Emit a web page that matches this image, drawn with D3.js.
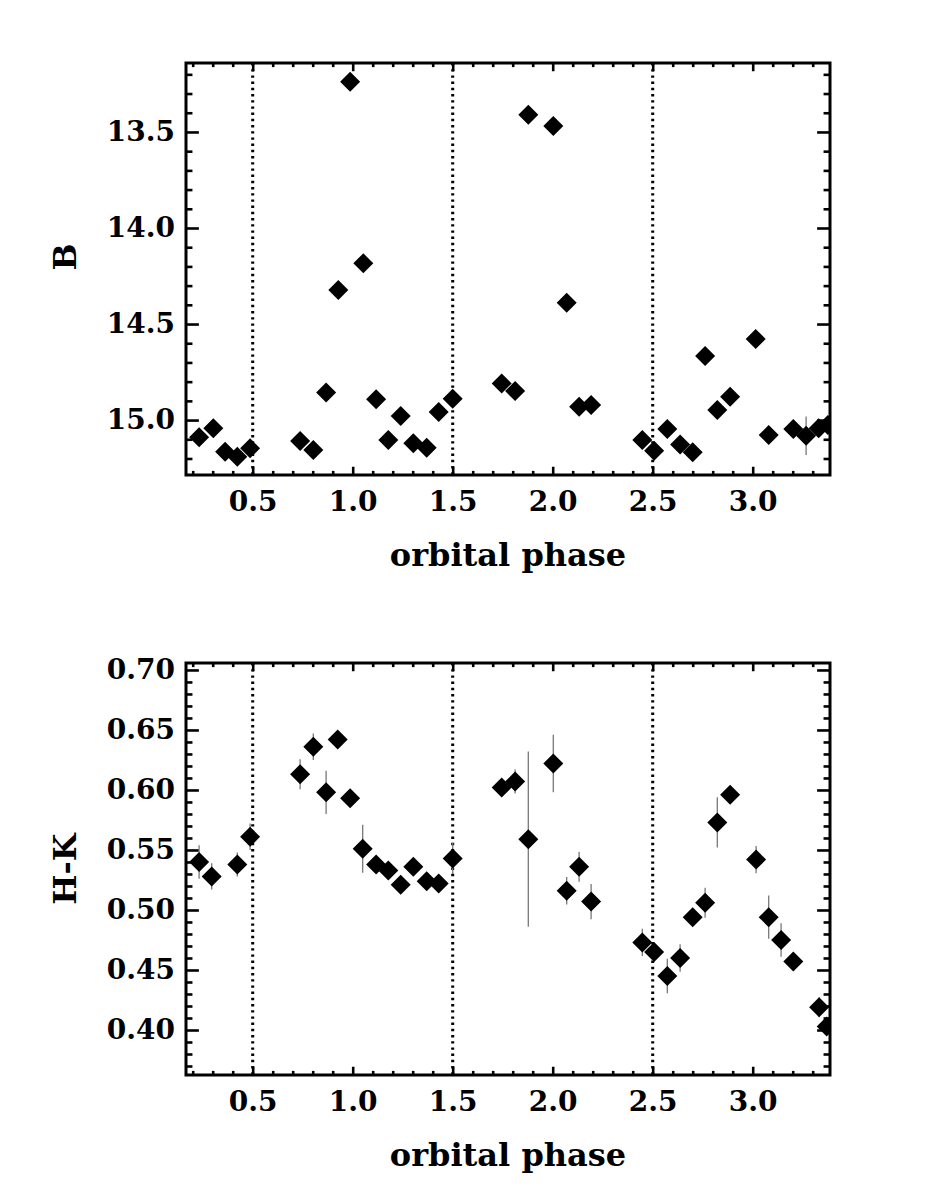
<!DOCTYPE html>
<html>
<head>
<meta charset="utf-8">
<script src="https://cdn.jsdelivr.net/npm/d3@7/dist/d3.min.js"></script>
<style>
  body { margin: 0; background: #fff; }
  svg { display: block; }
  .tick text { font-family: "DejaVu Serif", serif; font-size: 28px; font-weight: bold; fill: #000; }
  .title { font-family: "DejaVu Serif", serif; font-size: 32px; font-weight: bold; fill: #000; }
</style>
</head>
<body>
<div id="chart"></div>
<script>
// orbital phase, B magnitude panel
const phaseB = [0.232, 0.303, 0.362, 0.423, 0.487, 0.737, 0.803, 0.867, 0.928, 0.987,
  1.053, 1.117, 1.178, 1.240, 1.303, 1.370, 1.430, 1.500, 1.745, 1.812,
  1.878, 2.003, 2.070, 2.132, 2.192, 2.448, 2.507, 2.573, 2.637, 2.700,
  2.762, 2.823, 2.887, 3.015, 3.080, 3.203, 3.267, 3.330, 3.376];
const magB = [15.090, 15.043, 15.165, 15.191, 15.147, 15.109, 15.156, 14.856, 14.323, 13.238,
  14.184, 14.892, 15.104, 14.979, 15.121, 15.144, 14.958, 14.889, 14.809, 14.849,
  13.411, 13.469, 14.389, 14.931, 14.922, 15.104, 15.160, 15.047, 15.127, 15.167,
  14.667, 14.948, 14.879, 14.578, 15.078, 15.047, 15.082, 15.043, 15.026];
const errB = [0.01, 0.01, 0.01, 0.01, 0.01, 0.01, 0.01, 0.01, 0.01, 0.01,
  0.01, 0.01, 0.01, 0.01, 0.01, 0.01, 0.01, 0.01, 0.01, 0.01,
  0.01, 0.01, 0.01, 0.01, 0.01, 0.01, 0.01, 0.01, 0.01, 0.01,
  0.01, 0.01, 0.01, 0.01, 0.01, 0.01, 0.10, 0.01, 0.01];

// orbital phase, H-K colour panel
const phaseHK = [0.232, 0.295, 0.423, 0.487, 0.737, 0.803, 0.867, 0.925, 0.987, 1.050,
  1.117, 1.178, 1.240, 1.303, 1.370, 1.430, 1.500, 1.745, 1.812, 1.878,
  2.003, 2.070, 2.132, 2.192, 2.448, 2.507, 2.573, 2.637, 2.700, 2.762,
  2.823, 2.887, 3.017, 3.080, 3.142, 3.203, 3.332, 3.370];
const colHK = [0.540, 0.528, 0.538, 0.561, 0.613, 0.636, 0.598, 0.642, 0.593, 0.551,
  0.538, 0.533, 0.521, 0.536, 0.524, 0.522, 0.543, 0.602, 0.607, 0.559,
  0.622, 0.516, 0.536, 0.507, 0.473, 0.465, 0.445, 0.460, 0.494, 0.506,
  0.573, 0.596, 0.542, 0.494, 0.475, 0.457, 0.419, 0.403];
const errHK = [0.014, 0.011, 0.010, 0.011, 0.0125, 0.011, 0.018, 0.003, 0.003, 0.020,
  0.006, 0.005, 0.006, 0.004, 0.004, 0.007, 0.013, 0.003, 0.010, 0.073,
  0.024, 0.0115, 0.0125, 0.0147, 0.0114, 0.005, 0.0143, 0.0115, 0.004, 0.0125,
  0.021, 0.003, 0.0114, 0.018, 0.014, 0.004, 0.0083, 0.006];

const xMajor = [0.5, 1.0, 1.5, 2.0, 2.5, 3.0];
const xMinor = [0.2, 0.3, 0.4, 0.6, 0.7, 0.8, 0.9, 1.1, 1.2, 1.3, 1.4, 1.6, 1.7, 1.8, 1.9,
  2.1, 2.2, 2.3, 2.4, 2.6, 2.7, 2.8, 2.9, 3.1, 3.2, 3.3];
const eclipsePhases = [0.5, 1.5, 2.5];
const yMajorB = [13.5, 14.0, 14.5, 15.0];
const yMinorB = [13.2, 13.3, 13.4, 13.6, 13.7, 13.8, 13.9, 14.1, 14.2, 14.3, 14.4,
  14.6, 14.7, 14.8, 14.9, 15.1, 15.2];
const yMajorHK = [0.40, 0.45, 0.50, 0.55, 0.60, 0.65, 0.70];
const yMinorHK = [0.37, 0.38, 0.39, 0.41, 0.42, 0.43, 0.44, 0.46, 0.47, 0.48, 0.49,
  0.51, 0.52, 0.53, 0.54, 0.56, 0.57, 0.58, 0.59, 0.61, 0.62, 0.63, 0.64,
  0.66, 0.67, 0.68, 0.69];

const width = 925, height = 1199;
const left = 186, right = 830;

const svg = d3.select('#chart').append('svg')
  .attr('width', width)
  .attr('height', height);

const x = d3.scaleLinear().domain([0.1665, 3.3865]).range([left, right]);

function diamond(r) {
  return `M0,${-r}L${r},0L0,${r}L${-r},0Z`;
}

function drawPanel(opts) {
  const { id, top, bottom, y, xs, ys, errs, yMajor, yMinor, yFormat, ylabel, ylabelY } = opts;
  const g = svg.append('g').attr('class', id);

  g.append('clipPath').attr('id', `clip-${id}`)
    .append('rect')
    .attr('x', left).attr('y', top)
    .attr('width', right - left).attr('height', bottom - top);

  // dotted eclipse lines
  g.selectAll('.eclipse')
    .data(eclipsePhases)
    .enter()
    .append('line')
    .attr('x1', d => x(d)).attr('x2', d => x(d))
    .attr('y1', top).attr('y2', bottom)
    .attr('stroke', '#000')
    .attr('stroke-width', 3)
    .attr('stroke-dasharray', '2.4,3.8');

  const xTick = 0.02 * (bottom - top);
  const yTick = 0.02 * (right - left);

  // bottom axis
  const xb = g.append('g').attr('transform', `translate(0,${bottom})`)
    .call(d3.axisBottom(x).tickValues(xMajor).tickSize(-xTick).tickFormat(d3.format('.1f')));
  xb.selectAll('text').attr('y', 36).attr('dy', null);
  g.append('g').attr('transform', `translate(0,${bottom})`)
    .call(d3.axisBottom(x).tickValues(xMinor).tickSize(-xTick / 2).tickFormat(''));
  // top axis
  g.append('g').attr('transform', `translate(0,${top})`)
    .call(d3.axisTop(x).tickValues(xMajor).tickSize(-xTick).tickFormat(''));
  g.append('g').attr('transform', `translate(0,${top})`)
    .call(d3.axisTop(x).tickValues(xMinor).tickSize(-xTick / 2).tickFormat(''));

  // left axis
  const yl = g.append('g').attr('transform', `translate(${left},0)`)
    .call(d3.axisLeft(y).tickValues(yMajor).tickSize(-yTick).tickPadding(11).tickFormat(yFormat));
  yl.selectAll('text').attr('dy', '0.29em');
  g.append('g').attr('transform', `translate(${left},0)`)
    .call(d3.axisLeft(y).tickValues(yMinor).tickSize(-yTick / 2).tickFormat(''));
  // right axis
  g.append('g').attr('transform', `translate(${right},0)`)
    .call(d3.axisRight(y).tickValues(yMajor).tickSize(-yTick).tickFormat(''));
  g.append('g').attr('transform', `translate(${right},0)`)
    .call(d3.axisRight(y).tickValues(yMinor).tickSize(-yTick / 2).tickFormat(''));

  g.selectAll('.domain').remove();
  g.selectAll('.tick line').attr('stroke', '#000').attr('stroke-width', 2.6);

  // frame
  g.append('rect')
    .attr('x', left).attr('y', top)
    .attr('width', right - left).attr('height', bottom - top)
    .attr('fill', 'none')
    .attr('stroke', '#000')
    .attr('stroke-width', 3);

  const pts = xs.map((p, i) => ({ p, v: ys[i], e: errs[i] }));
  const data = g.append('g').attr('clip-path', `url(#clip-${id})`);

  data.selectAll('.err')
    .data(pts)
    .enter()
    .append('line')
    .attr('x1', d => x(d.p)).attr('x2', d => x(d.p))
    .attr('y1', d => y(d.v - d.e)).attr('y2', d => y(d.v + d.e))
    .attr('stroke', '#777')
    .attr('stroke-width', 1.3);

  data.selectAll('.pt')
    .data(pts)
    .enter()
    .append('path')
    .attr('d', diamond(10))
    .attr('transform', d => `translate(${x(d.p)},${y(d.v)})`)
    .attr('fill', '#000');

  g.append('text')
    .attr('class', 'title')
    .attr('x', (left + right) / 2)
    .attr('y', bottom + 91)
    .attr('text-anchor', 'middle')
    .text('orbital phase');

  g.append('text')
    .attr('class', 'title')
    .attr('transform', `translate(76,${ylabelY}) rotate(-90)`)
    .attr('text-anchor', 'middle')
    .text(ylabel);
}

drawPanel({
  id: 'b',
  top: 63, bottom: 475,
  y: d3.scaleLinear().domain([13.141, 15.286]).range([63, 475]),
  xs: phaseB, ys: magB, errs: errB,
  yMajor: yMajorB, yMinor: yMinorB,
  yFormat: d3.format('.1f'),
  ylabel: 'B', ylabelY: 257
});

drawPanel({
  id: 'hk',
  top: 663, bottom: 1075,
  y: d3.scaleLinear().domain([0.7058, 0.3625]).range([663, 1075]),
  xs: phaseHK, ys: colHK, errs: errHK,
  yMajor: yMajorHK, yMinor: yMinorHK,
  yFormat: d3.format('.2f'),
  ylabel: 'H-K', ylabelY: 869
});
</script>
</body>
</html>
